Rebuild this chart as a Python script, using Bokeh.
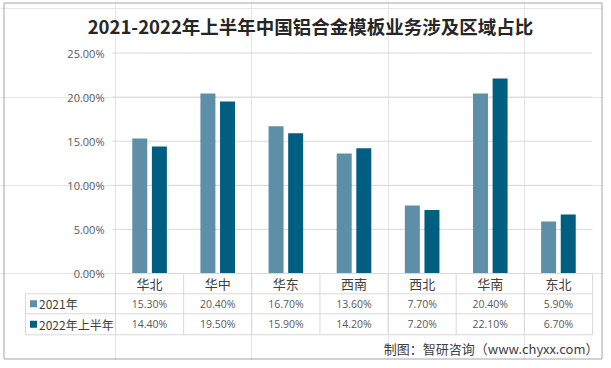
from bokeh.plotting import figure
from bokeh.models import Range1d, ColumnDataSource
from bokeh.core.properties import value
from bokeh.embed import file_html
from bokeh.resources import INLINE

# ---------------- data ----------------
title_text = "2021-2022年上半年中国铝合金模板业务涉及区域占比"
categories = ["华北", "华中", "华东", "西南", "西北", "华南", "东北"]
series_names = ["2021年", "2022年上半年"]
values_2021 = [15.3, 20.4, 16.7, 13.6, 7.7, 20.4, 5.9]
values_2022h1 = [14.4, 19.5, 15.9, 14.2, 7.2, 22.1, 6.7]
y_ticks = [0, 5, 10, 15, 20, 25]
y_tick_labels = ["0.00%", "5.00%", "10.00%", "15.00%", "20.00%", "25.00%"]
source_note = "制图：智研咨询（www.chyxx.com）"

# ---------------- styles ----------------
colors = ["#5D8FA8", "#005E80"]
grid_color = "#D9D9D9"
table_line = "#D9D9D9"
text_dark = "#404040"
text_grey = "#595959"
cjk = "Noto Sans CJK SC"
num_font = "Open Sans"

# layout: pixel <-> data helpers (figure pixel coordinates)
PX_PER_X = 68.143   # one category width in px
X0 = 115            # px of x=0 (left of plot area)
PX_PER_Y = 8.82     # px per 1 percent
Y0 = 273            # px of y=0
FW, FH = 603, 360

def fx(px):
    return (px - X0) / PX_PER_X

def fy(py):
    return (Y0 - py) / PX_PER_Y

p = figure(width=FW, height=FH, output_backend="svg", toolbar_location=None,
           x_range=Range1d(fx(0), fx(FW)), y_range=Range1d(fy(FH), fy(0)),
           x_axis_location=None, y_axis_location=None, min_border=0,
           background_fill_color="white", border_fill_color="white")
p.outline_line_color = None

n = len(categories)

# outer border
p.quad(left=[fx(3.5)], right=[fx(601.5)], top=[fy(2.5)], bottom=[fy(358.5)],
       fill_color=None, line_color="#A6A6A6", line_width=1)

# gridlines (skip zero, which is the table's top line)
gl = [t for t in y_ticks if t > 0]
p.segment(x0=[fx(112)] * len(gl), x1=[n] * len(gl), y0=gl, y1=gl,
          line_color=grid_color, line_width=1)

# y tick labels
p.text(x=[fx(104)] * len(y_ticks), y=y_ticks, text=y_tick_labels,
       text_align="right", text_baseline="middle",
       text_font=value(num_font), text_font_size="11px", text_color=text_grey)

# bars
offset, bw = 0.144, 0.22
src = ColumnDataSource(dict(
    x1=[i + 0.5 - offset for i in range(n)],
    x2=[i + 0.5 + offset for i in range(n)],
    v1=values_2021, v2=values_2022h1))
p.vbar(x="x1", top="v1", bottom=0, width=bw, source=src, fill_color=colors[0], line_color=None)
p.vbar(x="x2", top="v2", bottom=0, width=bw, source=src, fill_color=colors[1], line_color=None)

# data table
row_top = [0, fy(293.3), fy(313.3), fy(334.3)]
left_x = fx(25)
p.segment(x0=[0, left_x, left_x, left_x], x1=[n] * 4, y0=row_top, y1=row_top,
          line_color=table_line, line_width=1)
p.segment(x0=list(range(n + 1)), x1=list(range(n + 1)), y0=[0] * (n + 1),
          y1=[row_top[3]] * (n + 1), line_color=table_line, line_width=1)
p.segment(x0=[left_x], x1=[left_x], y0=[row_top[1]], y1=[row_top[3]],
          line_color=table_line, line_width=1)

hdr_y = (row_top[0] + row_top[1]) / 2
r1_y = (row_top[1] + row_top[2]) / 2
r2_y = (row_top[2] + row_top[3]) / 2
cx = [i + 0.5 for i in range(n)]
p.text(x=cx, y=[hdr_y] * n, text=categories, text_align="center", text_baseline="middle",
       text_font=value(cjk), text_font_size="13px", text_color=text_dark)
p.text(x=cx, y=[r1_y] * n, text=[f"{v:.2f}%" for v in values_2021],
       text_align="center", text_baseline="middle",
       text_font=value(num_font), text_font_size="10.5px", text_color=text_grey)
p.text(x=cx, y=[r2_y] * n, text=[f"{v:.2f}%" for v in values_2022h1],
       text_align="center", text_baseline="middle",
       text_font=value(num_font), text_font_size="10.5px", text_color=text_grey)

# legend keys in table
p.scatter(x=[fx(33)] * 2, y=[r1_y, r2_y], marker="square", size=7,
          fill_color=colors, line_color=None)
p.text(x=[fx(38.5)] * 2, y=[r1_y, r2_y], text=series_names, text_align="left",
       text_baseline="middle", text_font=value(cjk), text_font_size="12px",
       text_color=text_dark)

# title
p.text(x=[fx(310)], y=[fy(25)], text=[title_text], text_align="center",
       text_baseline="middle", text_font=value(cjk), text_font_size="18.5px",
       text_font_style="bold", text_color="#262626")

# source note
p.text(x=[fx(598)], y=[fy(348)], text=[source_note], text_align="right",
       text_baseline="middle", text_font=value(cjk), text_font_size="13px",
       text_color=text_dark)

open("out.html", "w").write(file_html(p, INLINE))
